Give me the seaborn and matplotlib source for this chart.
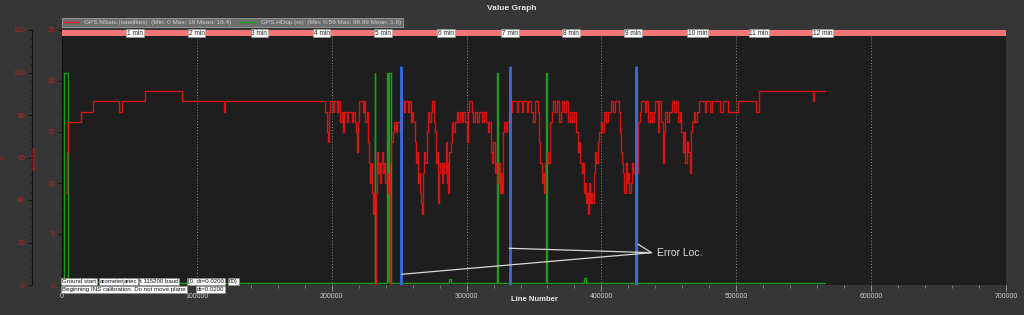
import matplotlib
matplotlib.use("Agg")
import matplotlib.pyplot as plt
import seaborn as sns
import pandas as pd
from matplotlib.ticker import MultipleLocator

# ---------------- data ----------------
sats_line = [3000, 3500, 4200, 13900, 22800, 42500, 44700, 61500, 88700, 119800, 120900,
             194960, 196700, 197430, 197930, 198670, 200650, 201640, 203610, 204850, 206080,
             207320, 208560, 209300, 211030, 212260, 214730, 215970, 216950, 217940, 218930,
             219670, 220410, 222880, 223870, 224860, 225850, 226840, 227580, 228320, 229060,
             229800, 230300, 230790, 231530, 232270, 232500, 232900, 233260, 234000, 234740,
             235730, 236470, 237220, 237960, 238700, 239690, 240680, 241420, 242160, 242900,
             243400, 244130, 245120, 246110, 247600, 248580, 250560, 251800, 253530, 254520,
             256740, 257480, 258470, 259460, 260440, 261680, 262420, 263170, 263900, 264650,
             265390, 266130, 266620, 267360, 268350, 269340, 270330, 271320, 272300, 273290,
             274530, 275760, 276750, 277490, 278230, 278980, 279470, 280460, 281450, 282430,
             283420, 284410, 285150, 285900, 286390, 287130, 288120, 289110, 290100, 291330,
             292570, 293800, 295040, 296270, 297510, 298740, 299980, 300720, 301710, 303690,
             304920, 306160, 307390, 309370, 311100, 312840, 314320, 315550, 316790, 317770,
             318760, 319750, 320740, 321730, 322720, 323700, 324690, 325430, 326170, 326920,
             327900, 329140, 330130, 331370, 333850, 337050, 338280, 340750, 341990, 344460,
             345700, 347430, 348910, 350640, 352610, 353600, 354590, 355580, 356570, 357550,
             358300, 359280, 360520, 361760, 362990, 364230, 365460, 366700, 368430, 369660,
             370900, 372380, 373860, 375350, 376830, 378310, 379800, 381280, 382270, 383250,
             384240, 385230, 386220, 387200, 387950, 388690, 389430, 390170, 390670, 391410,
             392150, 393140, 394130, 395110, 396100, 397090, 398080, 399320, 400550, 401540,
             403760, 405000, 406980, 408460, 409940, 413150, 414140, 414880, 415620, 416360,
             417100, 417850, 418830, 419820, 420810, 421800, 422780, 423770, 424760, 426240,
             427230, 428470, 429710, 432180, 433410, 434650, 436130, 437610, 439100, 440090,
             442070, 443050, 444540, 445530, 446270, 447510, 448990, 450470, 451960, 453930,
             455420, 456900, 458140, 459370, 460360, 461350, 462340, 463330, 464310, 465550,
             466290, 467280, 468510, 469750, 470980, 472220, 476500, 477300, 480400, 482300,
             487800, 490000, 493700, 501100, 514900, 516700, 556800, 557400, 565600]
sats_value = [9, 13, 16, 17, 18, 17, 18, 19, 18, 17, 18,
              17, 15, 14, 17, 18, 17, 18, 17, 18, 16,
              17, 15, 17, 16, 17, 16, 17, 16, 15, 13,
              16, 18, 17, 18, 16, 17, 14, 12, 10, 12,
              9, 8, 7, 9, 8, 0, 9, 13, 11, 12,
              10, 12, 13, 11, 12, 10, 11, 9, 10, 0,
              12, 14, 15, 16, 15, 16, 15, 18, 17, 18,
              17, 18, 16, 17, 16, 14, 12, 13, 10, 11,
              9, 8, 7, 11, 13, 12, 15, 17, 16, 17,
              18, 16, 15, 12, 13, 8, 11, 12, 10, 12,
              11, 14, 10, 12, 9, 13, 14, 16, 15, 16,
              17, 16, 17, 16, 17, 16, 14, 17, 18, 17,
              16, 17, 16, 17, 16, 17, 16, 15, 16, 13,
              12, 14, 11, 12, 10, 12, 9, 11, 9, 15,
              16, 15, 16, 17, 18, 17, 18, 17, 18, 17,
              18, 17, 16, 18, 17, 14, 12, 10, 11, 9,
              12, 13, 12, 16, 17, 18, 17, 18, 16, 17,
              18, 17, 18, 16, 17, 16, 17, 15, 13, 14,
              12, 11, 12, 9, 10, 8, 9, 7, 10, 8,
              9, 8, 11, 13, 12, 14, 15, 16, 15, 17,
              16, 17, 18, 17, 18, 17, 15, 13, 12, 11,
              9, 12, 10, 11, 9, 10, 12, 11, 12, 11,
              16, 17, 18, 17, 18, 16, 17, 16, 17, 18,
              15, 18, 16, 12, 15, 17, 16, 17, 18, 17,
              18, 16, 17, 15, 13, 15, 12, 14, 13, 11,
              15, 16, 17, 16, 17, 18, 17, 18, 17, 18,
              17, 18, 17, 18, 17, 19, 18, 19, 19]

hdop_line = [0, 1500, 4200, 60000, 120000, 231800, 232200, 240800, 241600, 242800, 243900,
             287000, 288400, 322900, 323300, 359100, 359700, 387000, 388200, 425600, 426100, 565600]
hdop_value = [0.6, 99.99, 1.2, 0.9, 1.1, 99.99, 1.0, 99.99, 1.2, 99.99, 1.1,
              3.0, 1.0, 99.99, 1.0, 99.99, 1.0, 3.2, 1.0, 99.99, 1.0, 1.0]

error_lines = [251300, 332100, 425600]
error_top = 21.5
error_pts_x = [251800, 331600, 427200]
error_pts_y = [1.05, 3.6, 4.0]
error_tip = (437100, 3.17)
error_text = "Error Loc."

minute_labels = ["1 min", "2 min", "3 min", "4 min", "5 min", "6 min",
                 "7 min", "8 min", "9 min", "10 min", "11 min", "12 min"]
minute_pos = [54100, 99850, 146260, 192520, 238180, 284660,
              332100, 377320, 423510, 471240, 516690, 563900]

msg_row1 = ["Ground start", "arometer", "artec", "t 115200 baud", "[0, dt=0.0200", "00)"]
msg_row1_x = [200, 28000, 46000, 57800, 93400, 123800]
msg_row2 = ["Beginning INS calibration. Do not move plane", "dt=0.0200"]
msg_row2_x = [0, 100000]

sats_label = "GPS.NSats (satellites)  (Min: 0 Max: 19 Mean: 16.4)"
hdop_label = "GPS.HDop (m)  (Min: 0.59 Max: 99.99 Mean: 1.6)"

# ---------------- style ----------------
sns.set_theme(style="dark")
plt.rcParams["font.family"] = ["Liberation Sans", "DejaVu Sans"]

FIG_BG = "#363636"
PLOT_BG = "#1e1e1e"
RED_TXT = "#c41e1e"

fig = plt.figure(figsize=(10.24, 3.15), dpi=100, facecolor=FIG_BG)
ax = fig.add_axes([62 / 1024, 30 / 315, 944 / 1024, 255 / 315])
ax2 = ax.twinx()

# HDop on outer axis (drawn underneath)
ax2.patch.set_visible(True)
ax2.set_facecolor(PLOT_BG)
ax.set_zorder(ax2.get_zorder() + 1)
ax.patch.set_visible(False)

df_h = pd.DataFrame({"line": hdop_line, "hdop": hdop_value})
sns.lineplot(data=df_h, x="line", y="hdop", ax=ax2, color="#1f9a1f", linewidth=1.0,
             drawstyle="steps-post", estimator=None, sort=False, label=hdop_label)

df_s = pd.DataFrame({"line": sats_line, "sats": sats_value})
sns.lineplot(data=df_s, x="line", y="sats", ax=ax, color="#e81414", linewidth=1.0,
             alpha=0.9, drawstyle="steps-post", estimator=None, sort=False, label=sats_label)

for a in (ax, ax2):
    lg = a.get_legend()
    if lg is not None:
        lg.remove()

# axes limits / ticks
ax.set_xlim(0, 700000)
ax.set_ylim(0, 25)
ax2.set_ylim(0, 120)

ax.xaxis.set_major_locator(MultipleLocator(100000))
ax.xaxis.set_minor_locator(MultipleLocator(20000))
ax.yaxis.set_major_locator(MultipleLocator(5))
ax.yaxis.set_minor_locator(MultipleLocator(1))
ax2.yaxis.set_major_locator(MultipleLocator(20))
ax2.yaxis.set_minor_locator(MultipleLocator(4))

ax.tick_params(axis="x", which="major", direction="out", length=4, width=0.6,
               color="#a0a0a0", labelcolor="#cfcfcf", labelsize=5, pad=2, bottom=True)
ax.tick_params(axis="x", which="minor", direction="out", length=2.5, width=0.5,
               color="#a0a0a0", bottom=True)
ax.tick_params(axis="y", which="major", direction="out", length=3, width=0.6,
               color="#111111", labelcolor=RED_TXT, labelsize=5, pad=2, left=True)
ax.tick_params(axis="y", which="minor", direction="out", length=1.5, width=0.5,
               color="#111111", left=True)

ax2.yaxis.tick_left()
ax2.yaxis.set_label_position("left")
ax2.spines["left"].set_position(("outward", 21.6))
ax2.tick_params(axis="y", which="major", direction="out", length=3, width=0.6,
                color="#111111", labelcolor=RED_TXT, labelsize=5, pad=2, left=True, right=False)
ax2.tick_params(axis="y", which="minor", direction="out", length=1.5, width=0.5,
                color="#111111", left=True, right=False)

for s in ("top", "right", "bottom"):
    ax.spines[s].set_visible(False)
    ax2.spines[s].set_visible(False)
ax.spines["left"].set_visible(True)
ax.spines["left"].set_color("#111111")
ax.spines["left"].set_linewidth(0.8)
ax2.spines["left"].set_visible(True)
ax2.spines["left"].set_color("#111111")
ax2.spines["left"].set_linewidth(0.8)

ax.grid(False)
ax2.grid(False)
ax.grid(axis="x", which="major", linestyle=(0, (1, 2)), color="#8a8a8a", linewidth=0.7)

# labels
ax.set_ylabel("satellites", color=RED_TXT, fontsize=4.5)
ax.yaxis.set_label_coords(-0.0265, 0.5)
ax2.set_ylabel("s", color=RED_TXT, fontsize=5)
ax2.yaxis.set_label_coords(-0.0596, 0.5)
ax.set_xlabel("Line Number", color="#e6e6e6", fontsize=5.5, fontweight="bold")
ax.xaxis.set_label_coords(0.5, -0.045)

fig.text(0.5, 1 - 8 / 315, "Value Graph", ha="center", va="center",
         fontsize=6, fontweight="bold", color="#e6e6e6")

# top minute bar
ax.axhspan(24.4, 25, color="#f27676", zorder=3, lw=0)
for pos, lab in zip(minute_pos, minute_labels):
    ax.text(pos, 24.7, lab, ha="center", va="center", fontsize=4.7, color="#202020", zorder=5,
            bbox=dict(boxstyle="square,pad=0.12", fc="white", ec="#9a9a9a", lw=0.4))

# error markers
ax.vlines(error_lines, 0, error_top, color="#3a6de4", linewidth=2, zorder=4)
for ex, ey in zip(error_pts_x, error_pts_y):
    ax.annotate("", xy=(ex, ey), xytext=error_tip, zorder=6,
                arrowprops=dict(arrowstyle="-", color="#d8d8d8", lw=0.9, shrinkA=0, shrinkB=0))
ax.text(error_tip[0] + 4000, error_tip[1], error_text, color="#e0e0e0", fontsize=7.5,
        ha="left", va="center", zorder=6)

# message boxes
for x, t in zip(msg_row1_x, msg_row1):
    ax.text(x, 0.34, t, ha="left", va="center", fontsize=4.4, color="#111111", zorder=7,
            clip_on=False, bbox=dict(boxstyle="square,pad=0.15", fc="white", ec="#8a8a8a", lw=0.4))
for x, t in zip(msg_row2_x, msg_row2):
    ax.text(x, -0.44, t, ha="left", va="center", fontsize=4.4, color="#111111", zorder=7,
            clip_on=False, bbox=dict(boxstyle="square,pad=0.15", fc="white", ec="#8a8a8a", lw=0.4))

# legend
h1 = ax.get_lines()[0]
h2 = ax2.get_lines()[0]
leg = ax.legend([h1, h2], [sats_label, hdop_label], loc="lower left", bbox_to_anchor=(0, 1.012),
                ncol=2, fontsize=4.6, frameon=True, fancybox=False, facecolor="#6e6e6e",
                edgecolor="#9a9a9a", framealpha=1, borderpad=0.25, handlelength=2.4,
                handletextpad=0.8, columnspacing=1.4, labelcolor="#cfcfcf", borderaxespad=0)
leg.get_frame().set_linewidth(0.6)

fig.savefig("out.png", dpi=100, facecolor=FIG_BG)
